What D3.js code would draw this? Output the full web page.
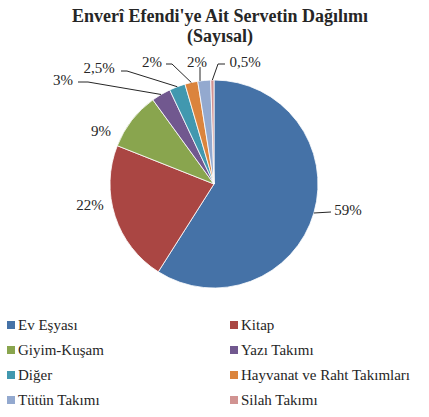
<!DOCTYPE html>
<html><head><meta charset="utf-8"><script src="https://cdn.jsdelivr.net/npm/d3@7"></script></head>
<body style="margin:0">
<svg id="s" width="429" height="417" font-family="'Liberation Serif'"></svg>
<script>
// Data
var categories = ["Ev Eşyası", "Kitap", "Giyim-Kuşam", "Yazı Takımı", "Diğer",
                  "Hayvanat ve Raht Takımları", "Tütün Takımı", "Silah Takımı"];
var values = [59, 22, 9, 3, 2.5, 2, 2, 0.5];
var valueLabels = ["59%", "22%", "9%", "3%", "2,5%", "2%", "2%", "0,5%"];
var colors = ["#4572A7", "#AA4643", "#89A54E", "#71588F", "#4198AF", "#DB843D", "#93A9CF", "#D19392"];

var svg = d3.select("#s"),
    cx = 214, cy = 184, radius = 104;

// Title
var titleLines = ["Enverî Efendi'ye Ait Servetin Dağılımı", "(Sayısal)"];
svg.selectAll(".title").data(titleLines).enter().append("text")
    .attr("class", "title")
    .attr("x", 220)
    .attr("y", function(d, i) { return 22 + i * 20; })
    .attr("text-anchor", "middle")
    .attr("font-family", "'Liberation Serif'")
    .attr("font-size", 18)
    .attr("font-weight", "bold")
    .attr("fill", "#262626")
    .text(function(d) { return d; });

// Pie
var pie = d3.pie().sort(null).value(function(d) { return d; });
var arc = d3.arc().innerRadius(0).outerRadius(radius);
var arcs = pie(values);

var g = svg.append("g").attr("transform", "translate(" + cx + "," + cy + ")");
g.selectAll("path")
  .data(arcs)
  .enter().append("path")
    .attr("d", arc)
    .attr("fill", function(d, i) { return colors[i]; })
    .attr("stroke", "#fff")
    .attr("stroke-width", 0.8);

// Label placement relative to pie centre, leader line points from text towards slice
var labelPos = [
  { x: 134, y: 26, line: [[117, 28]] },
  { x: -124, y: 21, line: null },
  { x: -113, y: -53, line: null },
  { x: -151, y: -104, line: [[-136, -102], [-126, -102]] },
  { x: -115, y: -116, line: [[-93, -113], [-87, -113]] },
  { x: -62, y: -122, line: [[-48, -120], [-42, -120]] },
  { x: -17, y: -122, line: [[-14, -117]], vertical: true },
  { x: 31, y: -122, line: [[11, -120], [4, -120]] }
];

arcs.forEach(function(d, i) {
  var p = labelPos[i];
  if (!p.line) return;
  var mid = (d.startAngle + d.endAngle) / 2;
  var edge = [radius * Math.sin(mid), -radius * Math.cos(mid)];
  if (p.vertical) edge = [p.line[0][0], -Math.sqrt(radius * radius - p.line[0][0] * p.line[0][0])];
  g.append("path")
    .attr("d", d3.line()(p.line.concat([edge])))
    .attr("fill", "none")
    .attr("stroke", "#262626")
    .attr("stroke-width", 1);
});

g.selectAll(".lbl").data(arcs).enter().append("text")
    .attr("class", "lbl")
    .attr("x", function(d, i) { return labelPos[i].x; })
    .attr("y", function(d, i) { return labelPos[i].y + 5; })
    .attr("text-anchor", "middle")
    .attr("font-family", "'Liberation Serif'")
    .attr("font-size", 15)
    .attr("fill", "#262626")
    .text(function(d, i) { return valueLabels[i]; });

// Legend
var colX = [7, 230], rowY = [325, 350, 375, 400];
var legend = svg.selectAll(".legend")
  .data(categories)
  .enter().append("g")
    .attr("class", "legend")
    .attr("transform", function(d, i) {
      return "translate(" + colX[i % 2] + "," + rowY[Math.floor(i / 2)] + ")";
    });
legend.append("rect")
    .attr("x", 0).attr("y", -4)
    .attr("width", 8).attr("height", 8)
    .attr("fill", function(d, i) { return colors[i]; });
legend.append("text")
    .attr("x", 11)
    .attr("y", 5)
    .attr("font-family", "'Liberation Serif'")
    .attr("font-size", 15)
    .attr("fill", "#262626")
    .text(function(d) { return d; });
</script>
</body></html>
